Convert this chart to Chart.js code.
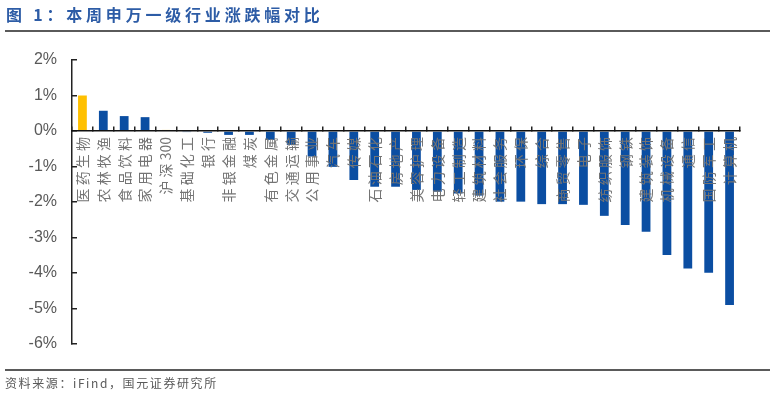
<!DOCTYPE html>
<html>
<head>
<meta charset="utf-8">
<script src="https://cdn.jsdelivr.net/npm/chart.js@4.4.1/dist/chart.umd.min.js"></script>
<style>
    html, body { margin: 0; padding: 0; background: #fff; }
    #wrap { position: relative; width: 776px; height: 399px; overflow: hidden; }
    #title {
        position: absolute; left: 6px; top: 2px;
        font: bold 16px "Noto Sans CJK SC", sans-serif;
        color: #2D5CA6; letter-spacing: 3.8px; white-space: nowrap;
    }
    .rule { position: absolute; left: 5px; width: 765px; height: 0; border-top: 2px solid #5a5a5a; }
    #source {
        position: absolute; left: 5px; top: 374px;
        font: 12px "Noto Sans CJK SC", sans-serif;
        color: #595959; letter-spacing: 1.6px; white-space: nowrap;
    }
    canvas { position: absolute; left: 0; top: 0; }
</style>
</head>
<body>
<div id="wrap">
    <canvas id="industryChart" width="776" height="399"></canvas>
    <div id="title">图 1：本周申万一级行业涨跌幅对比</div>
    <div class="rule" style="top:30px"></div>
    <div class="rule" style="top:369px"></div>
    <div id="source">资料来源：iFind，国元证券研究所</div>
</div>
<script>
// SW level-1 industries, weekly change (%)
const industries = [
    '医药生物', '农林牧渔', '食品饮料', '家用电器', '沪深300', '基础化工', '银行', '非银金融',
    '煤炭', '有色金属', '交通运输', '公用事业', '汽车', '传媒', '石油石化', '房地产',
    '美容护理', '电力设备', '轻工制造', '建筑材料', '社会服务', '环保', '综合', '商贸零售',
    '电子', '纺织服饰', '钢铁', '建筑装饰', '机械设备', '通信', '国防军工', '计算机'
];
const weeklyChange = [
    1.00, 0.57, 0.42, 0.39, 0.03, -0.03, -0.05, -0.11,
    -0.11, -0.25, -0.39, -0.72, -1.01, -1.38, -1.57, -1.57,
    -1.66, -1.71, -1.76, -1.82, -1.99, -1.99, -2.06, -2.06,
    -2.08, -2.39, -2.65, -2.84, -3.49, -3.87, -3.99, -4.90
];
const highlighted = ['医药生物', '沪深300'];
const yTicks = [2, 1, 0, -1, -2, -3, -4, -5, -6];

const barColors = industries.map(name => highlighted.includes(name) ? '#FFC000' : '#0B4EA2');

// put a small gap between Chinese characters, keep digits together
const spaced = (label) => label.replace(/([\u4e00-\u9fa5])(?=.)/g, '$1 ');

const ctx = document.getElementById('industryChart').getContext('2d');
const industryChart = new Chart(ctx, {
    type: 'bar',
    data: {
        labels: industries,
        datasets: [{
            data: weeklyChange,
            backgroundColor: barColors,
            barPercentage: 0.42,
            categoryPercentage: 1,
            minBarLength: 1
        }]
    },
    options: {
        responsive: false,
        animation: false,
        layout: { padding: { top: 60, right: 36, bottom: 55, left: 0 } },
        plugins: {
            legend: { display: false },
            tooltip: { enabled: false }
        },
        scales: {
            x: {
                position: { y: 0 },
                grid: { drawOnChartArea: false, offset: true, tickLength: -5, color: '#222', lineWidth: 1.5 },
                border: { color: '#111', width: 1.5, z: 1 },
                ticks: {
                    autoSkip: false,
                    minRotation: 90,
                    maxRotation: 90,
                    padding: 11,
                    z: 1,
                    color: '#747474',
                    font: { family: '"Noto Sans CJK SC"', size: 14 },
                    callback: function (value) { return spaced(this.getLabelForValue(value)); }
                },
                afterFit: (axis) => { axis.height = 0; }
            },
            y: {
                min: yTicks[yTicks.length - 1],
                max: yTicks[0],
                ticks: {
                    stepSize: 1,
                    padding: 20,
                    color: '#595959',
                    font: { family: '"Liberation Sans", Arial', size: 16 },
                    callback: (value) => value + '%'
                },
                grid: { drawOnChartArea: false, tickLength: -5, color: '#222', lineWidth: 1.5 },
                border: { color: '#222', width: 1.5 },
                afterFit: (axis) => { axis.width = 72; }
            }
        }
    }
});
</script>
</body>
</html>
